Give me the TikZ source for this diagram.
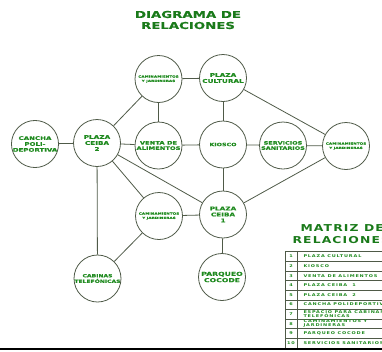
\documentclass[tikz,border=0pt]{standalone}
\usepackage{fontspec}
\setmainfont{DejaVu Sans}
\newfontfamily\widefont[FakeStretch=1.4,FakeBold=0.4]{DejaVu Sans Bold}
\newfontfamily\spacedfont[FakeStretch=1.3,LetterSpace=12]{DejaVu Sans Bold}
\newfontfamily\tabfont[FakeStretch=1.3,LetterSpace=22]{DejaVu Sans Bold}
\definecolor{txtgreen}{HTML}{1F8A1F}
\definecolor{titlegreen}{HTML}{1A7A1A}
\definecolor{strokegray}{HTML}{4F5A48}
\begin{document}
\begin{tikzpicture}[x=1pt,y=-1pt,
  circ/.style={circle,draw=strokegray,line width=0.8pt,minimum size=47pt,inner sep=0pt,
    text=txtgreen,align=center,font=\widefont\fontsize{5.2}{6}\selectfont},
  tiny/.style={font=\widefont\fontsize{3}{4.3}\selectfont},
  conn/.style={draw=strokegray,line width=0.8pt},
  ttl/.style={text=titlegreen,align=center,font=\widefont\fontsize{9.5}{11}\selectfont},
  mttl/.style={text=titlegreen,anchor=west,font=\spacedfont\fontsize{9.5}{11}\selectfont},
  cell/.style={text=txtgreen,anchor=west,align=left,font=\tabfont\fontsize{3.8}{4}\selectfont},
  num/.style={text=txtgreen,font=\tabfont\fontsize{3.8}{4}\selectfont}]
\useasboundingbox (0,0) rectangle (382,351);
\clip (0,0) rectangle (382,351);
% title
\node[ttl] (title) at (188,20) {DIAGRAMA DE\\RELACIONES};
% circles
\node[circ,tiny] (ct) at (158.5,79) {CAMINAMIENTOS\\Y JARDINERAS};
\node[circ] (pc) at (223,78) {PLAZA\\CULTURAL};
\node[circ,font=\widefont\fontsize{5}{5.9}\selectfont] (ca) at (35,144) {CANCHA\\POLI-\\DEPORTIVA};
\node[circ] (p2) at (97,143) {PLAZA\\CEIBA\\2};
\node[circ,font=\widefont\fontsize{4.8}{5.4}\selectfont] (va) at (158.5,145.5) {VENTA DE\\ALIMENTOS};
\node[circ,font=\widefont\fontsize{4.5}{5}\selectfont] (ki) at (223,144.5) {KIOSCO};
\node[circ,font=\widefont\fontsize{4.6}{5.2}\selectfont] (ss) at (283,145.5) {SERVICIOS\\SANITARIOS};
\node[circ,tiny] (cr) at (346,146) {CAMINAMIENTOS\\Y JARDINERAS};
\node[circ] (p1) at (223,214.5) {PLAZA\\CEIBA\\1};
\node[circ,tiny] (cl) at (159,216) {CAMINAMIENTOS\\Y JARDINERAS};
\node[circ,font=\widefont\fontsize{4.3}{5.6}\selectfont] (cb) at (97.5,278.5) {CABINAS\\TELEF\'ONICAS};
\node[circ,font=\widefont\fontsize{5.5}{6.3}\selectfont] (pq) at (222,277) {PARQUEO\\COCODE};
% connectors
\draw[conn] (ct) -- (pc);
\draw[conn] (ct) -- (p2);
\draw[conn] (ct) -- (va);
\draw[conn] (pc) -- (ki);
\draw[conn] (pc) -- (cr);
\draw[conn] (ca) -- (p2);
\draw[conn] (p2) -- (va);
\draw[conn] (va) -- (ki);
\draw[conn] (ki) -- (ss);
\draw[conn] (ss) -- (cr);
\draw[conn] (ki) -- (p1);
\draw[conn] (cr) -- (p1);
\draw[conn] (p2) -- (p1);
\draw[conn] (p2) -- (cl);
\draw[conn] (p2) -- (cb);
\draw[conn] (cl) -- (p1);
\draw[conn] (cl) -- (cb);
\draw[conn] (p1) -- (pq);
% matrix title
\node[mttl] (mt1) at (297,228.5) {MATRIZ DE};
\node[mttl] (mt2) at (289,240.5) {RELACIONES};
% table
\draw[strokegray,line width=0.6pt] (285,251.5) rectangle (430,348);
\draw[strokegray,line width=0.6pt] (297,251.5) -- (297,348);
\foreach \i in {1,...,9}{
  \draw[strokegray,line width=0.5pt] (285,251.5+9.65*\i) -- (430,251.5+9.65*\i);
}
\foreach \i/\t in {1/PLAZA CULTURAL,2/KIOSCO,3/VENTA DE ALIMENTOS,4/PLAZA CEIBA\ \ 1,5/PLAZA CEIBA\ \ 2,6/CANCHA POLIDEPORTIVA,7/{ESPACIO PARA CABINAS\\TELEF\'ONICAS},8/{CAMINAMIENTOS Y\\JARDINERAS},9/PARQUEO COCODE,10/SERVICIOS SANITARIOS}{
  \node[num] (n\i) at (291,251.5+9.65*\i-4.8) {\i};
  \node[cell] (c\i) at (300,251.5+9.65*\i-4.8) {\t};
}
% bottom rule
\draw[black,line width=1.4pt] (0,349) -- (382,349);
\end{tikzpicture}
\end{document}
